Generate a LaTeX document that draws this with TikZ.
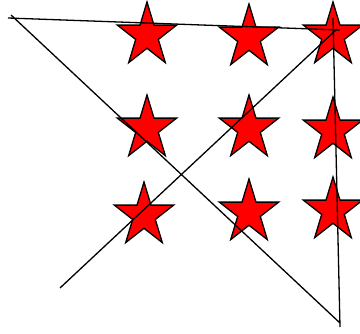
\documentclass[tikz,border=0pt]{standalone}
\begin{document}
\begin{tikzpicture}[x=1pt,y=-1pt,
  starstyle/.style={draw=black,fill=red,line width=1.3pt,line join=miter},
  stroke/.style={draw=black,line width=1.3pt},
  pics/redstar/.style={code={
    \path[starstyle,xscale=0.93] (270:33.5) -- (306:12.8) -- (342:33.5) -- (18:12.8) -- (54:33.5)
      -- (90:12.8) -- (126:33.5) -- (162:12.8) -- (198:33.5) -- (234:12.8) -- cycle;}}]
\useasboundingbox (0,0) rectangle (360,334);
\clip (0,0) rectangle (360,334);
% stars
\pic (s11) at (147,35.5) {redstar};
\pic (s12) at (249,37.5) {redstar};
\pic (s13) at (333,35.5) {redstar};
\pic (s21) at (147,128.5) {redstar};
\pic (s22) at (249,128.5) {redstar};
\pic (s23) at (333,130.5) {redstar};
\pic (s31) at (144,215.5) {redstar};
\pic (s32) at (249,212.5) {redstar};
\pic (s33) at (333,210.5) {redstar};
% line end points
\coordinate (h1) at (8,18);
\coordinate (h2) at (340,30);
\coordinate (d1) at (11,15);
\coordinate (d2) at (340,323);
\coordinate (v1) at (333,18);
\coordinate (v2) at (340,327);
\coordinate (u1) at (60,288);
\coordinate (u2) at (337,29);
\draw[stroke] (h1) -- (h2);
\draw[stroke] (d1) -- (d2);
\draw[stroke] (v1) -- (v2);
\draw[stroke] (u1) -- (u2);
\end{tikzpicture}
\end{document}
